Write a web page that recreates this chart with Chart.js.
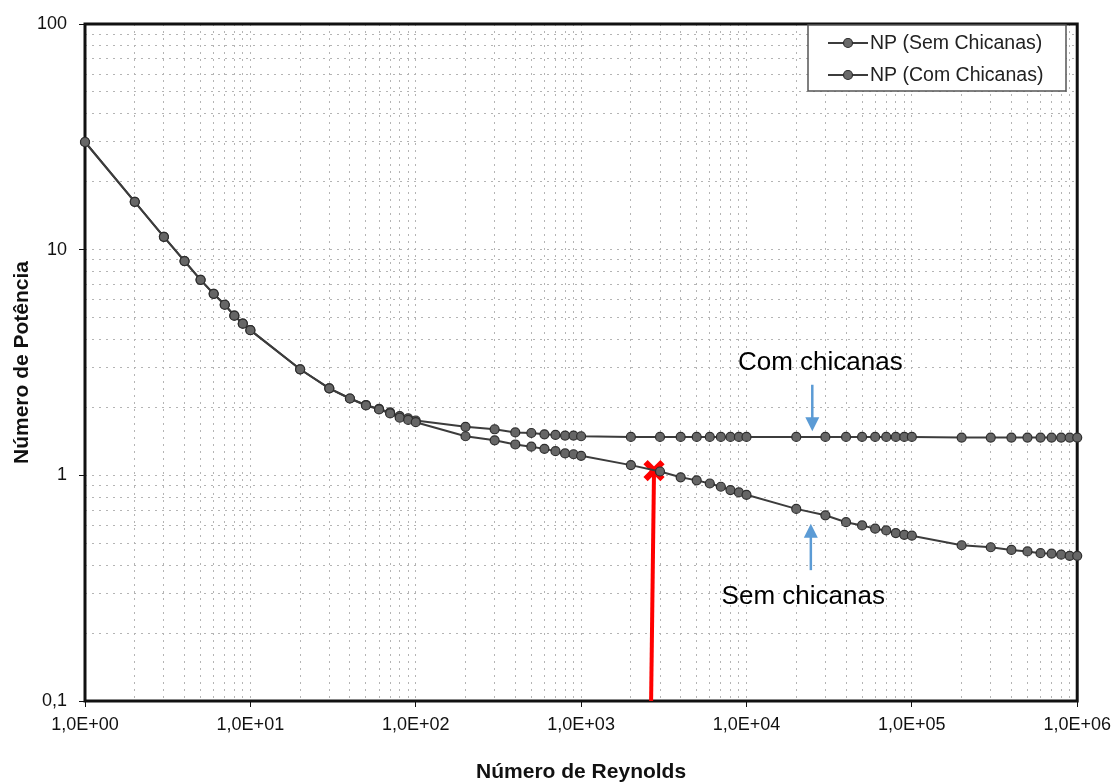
<!DOCTYPE html>
<html><head><meta charset="utf-8">
<script src="https://cdn.jsdelivr.net/npm/chart.js@4.4.1/dist/chart.umd.min.js"></script>
<style>html,body{margin:0;padding:0;background:#fff;}#wrap{width:1118px;height:782px;position:relative;}</style>
</head><body><div id="wrap"><canvas id="c" width="1118" height="782"></canvas></div>
<script>
// ---- data ----
const reynolds = [1,2,3,4,5,6,7,8,9,10,
  20,30,40,50,60,70,80,90,100,
  200,300,400,500,600,700,800,900,1000,
  2000,3000,4000,5000,6000,7000,8000,9000,10000,
  20000,30000,40000,50000,60000,70000,80000,90000,100000,
  200000,300000,400000,500000,600000,700000,800000,900000,1000000];
const npSem = [30,16.3,11.4,8.9,7.35,6.37,5.7,5.1,4.7,4.4,
  2.95,2.43,2.19,2.04,1.96,1.88,1.80,1.76,1.72,
  1.49,1.43,1.37,1.34,1.31,1.28,1.25,1.24,1.22,
  1.11,1.04,0.98,0.95,0.92,0.89,0.86,0.84,0.82,
  0.71,0.665,0.62,0.60,0.58,0.57,0.555,0.545,0.54,
  0.49,0.48,0.467,0.46,0.452,0.45,0.445,0.44,0.44];
const npCom = [30,16.3,11.4,8.9,7.35,6.37,5.7,5.1,4.7,4.4,
  2.95,2.43,2.19,2.05,1.97,1.90,1.83,1.79,1.75,
  1.64,1.60,1.55,1.54,1.52,1.51,1.50,1.50,1.49,
  1.48,1.48,1.48,1.48,1.48,1.48,1.48,1.48,1.48,
  1.48,1.48,1.48,1.48,1.48,1.48,1.48,1.48,1.48,
  1.47,1.47,1.47,1.47,1.47,1.47,1.47,1.47,1.47];
const seriesLabels = ['NP (Sem Chicanas)','NP (Com Chicanas)'];
const xMajorTicks = [1,10,100,1000,10000,100000,1000000];
const xTickLabels = ['1,0E+00','1,0E+01','1,0E+02','1,0E+03','1,0E+04','1,0E+05','1,0E+06'];
const yMajorTicks = [0.1,1,10,100];
const yTickLabels = ['0,1','1','10','100'];
const markerRe = [2650, 2760];
const markerNp = [0.1, 1.05];
const annotTexts = ['Com chicanas','Sem chicanas'];
const xTitle = 'Número de Reynolds';
const yTitle = 'Número de Potência';

// ---- annotation placement (data coordinates) ----
const annot = [
  {text: annotTexts[0], tx: 27950, ty: 3.15, ax: 25000, aFrom: 2.52, aTo: 1.57},
  {text: annotTexts[1], tx: 22050, ty: 0.29, ax: 24500, aFrom: 0.38, aTo: 0.61}
];

function withMinors(majors){
  const out = [];
  for (let i=0;i<majors.length-1;i++){
    for (let k=1;k<10;k++) out.push(+(majors[i]*k).toPrecision(6));
  }
  out.push(majors[majors.length-1]);
  return out;
}
function majorLabel(v, majors, labels){
  for (let i=0;i<majors.length;i++) if (Math.abs(v-majors[i]) < majors[i]*1e-6) return labels[i];
  return '';
}
function isMajor(v, majors){ return majorLabel(v, majors, majors.map(()=>'x')) !== ''; }

const frame = {
  id:'frame',
  beforeDatasetsDraw(chart){
    const {ctx, chartArea:a} = chart;
    ctx.save();
    ctx.strokeStyle = '#111'; ctx.lineWidth = 3;
    ctx.strokeRect(a.left, a.top, a.right-a.left, a.bottom-a.top);
    ctx.restore();
  },
  afterDraw(chart){
    const {ctx} = chart;
    const xs = chart.scales.x, ys = chart.scales.y;
    ctx.save();
    annot.forEach(an=>{
      const x = xs.getPixelForValue(an.ax);
      const y1 = ys.getPixelForValue(an.aFrom), y2 = ys.getPixelForValue(an.aTo);
      const dir = Math.sign(y2-y1);
      ctx.strokeStyle = '#5b9bd5'; ctx.fillStyle = '#5b9bd5'; ctx.lineWidth = 2.5;
      ctx.beginPath(); ctx.moveTo(x, y1); ctx.lineTo(x, y2 - dir*12); ctx.stroke();
      ctx.beginPath(); ctx.moveTo(x, y2); ctx.lineTo(x-7, y2-dir*14); ctx.lineTo(x+7, y2-dir*14); ctx.closePath(); ctx.fill();
      ctx.fillStyle = '#000'; ctx.font = '26px "Liberation Sans", Arial, sans-serif';
      ctx.textAlign = 'center'; ctx.textBaseline = 'middle';
      ctx.fillText(an.text, xs.getPixelForValue(an.tx), ys.getPixelForValue(an.ty));
    });
    const bx=808, by=25, bw=258, bh=66;
    ctx.fillStyle = '#fff'; ctx.fillRect(bx,by,bw,bh);
    ctx.strokeStyle = '#555'; ctx.lineWidth = 1.5; ctx.strokeRect(bx,by,bw,bh);
    ctx.font = '19.5px "Liberation Sans", Arial, sans-serif';
    ctx.textAlign = 'left'; ctx.textBaseline = 'middle';
    seriesLabels.forEach((lab,i)=>{
      const yy = by + 18 + i*32;
      ctx.strokeStyle = '#3c3c3c'; ctx.lineWidth = 2;
      ctx.beginPath(); ctx.moveTo(828,yy); ctx.lineTo(868,yy); ctx.stroke();
      ctx.fillStyle = '#6a6a6a'; ctx.strokeStyle = '#2e2e2e'; ctx.lineWidth = 1.2;
      ctx.beginPath(); ctx.arc(848,yy,4.5,0,Math.PI*2); ctx.fill(); ctx.stroke();
      ctx.fillStyle = '#222';
      ctx.fillText(lab, 870, yy+1);
    });
    ctx.restore();
  }
};

const seriesStyle = {
  borderColor:'#3c3c3c', borderWidth:2, pointRadius:4.5, pointHoverRadius:4.5,
  pointBackgroundColor:'#666666', pointBorderColor:'#2e2e2e', pointBorderWidth:1.2,
  tension:0, clip:false, fill:false
};

new Chart(document.getElementById('c'), {
  type:'line',
  data:{
    datasets:[
      Object.assign({label:seriesLabels[0], data: reynolds.map((r,i)=>({x:r,y:npSem[i]}))}, seriesStyle),
      Object.assign({label:seriesLabels[1], data: reynolds.map((r,i)=>({x:r,y:npCom[i]}))}, seriesStyle),
      {label:'marker', data: markerRe.map((r,i)=>({x:r,y:markerNp[i]})), borderColor:'#ff0000', borderWidth:4,
       pointRadius:[0,12], pointStyle:'crossRot', pointBorderColor:'#ff0000', pointBorderWidth:6, clip:false}
    ]
  },
  options:{
    responsive:false, animation:false, events:[],
    layout:{padding:{top:24,right:40,left:0,bottom:0}},
    plugins:{legend:{display:false}, tooltip:{enabled:false}},
    scales:{
      x:{
        type:'logarithmic', min:1, max:1000000,
        afterBuildTicks(s){ s.ticks = withMinors(xMajorTicks).map(v=>({value:v})); },
        afterFit(s){ s.height = 81; },
        ticks:{autoSkip:false, maxRotation:0, padding:7, color:'#111',
          font:{family:'"Liberation Sans", Arial, sans-serif', size:18},
          callback:(v)=>majorLabel(v, xMajorTicks, xTickLabels)},
        grid:{color:'#b4b4b4', lineWidth:1, drawTicks:true, tickLength:6,
          tickColor:(c)=> c.tick && isMajor(c.tick.value, xMajorTicks) ? '#111' : 'rgba(0,0,0,0)'},
        border:{display:false, dash:[2,5]},
        title:{display:true, text:xTitle, color:'#111', padding:{top:0,bottom:0},
          font:{family:'"Liberation Sans", Arial, sans-serif', size:21, weight:'bold', lineHeight:0.9}}
      },
      y:{
        type:'logarithmic', min:0.1, max:100,
        afterBuildTicks(s){ s.ticks = withMinors(yMajorTicks).map(v=>({value:v})); },
        afterFit(s){ s.width = 85; },
        ticks:{autoSkip:false, padding:12, color:'#111',
          font:{family:'"Liberation Sans", Arial, sans-serif', size:18},
          callback:(v)=>majorLabel(v, yMajorTicks, yTickLabels)},
        grid:{color:'#b4b4b4', lineWidth:1, drawTicks:true, tickLength:6,
          tickColor:(c)=> c.tick && isMajor(c.tick.value, yMajorTicks) ? '#111' : 'rgba(0,0,0,0)'},
        border:{display:false, dash:[2,5]},
        title:{display:true, text:yTitle, color:'#111', padding:{top:10,bottom:0},
          font:{family:'"Liberation Sans", Arial, sans-serif', size:21, weight:'bold'}}
      }
    }
  },
  plugins:[frame]
});
</script></body></html>
